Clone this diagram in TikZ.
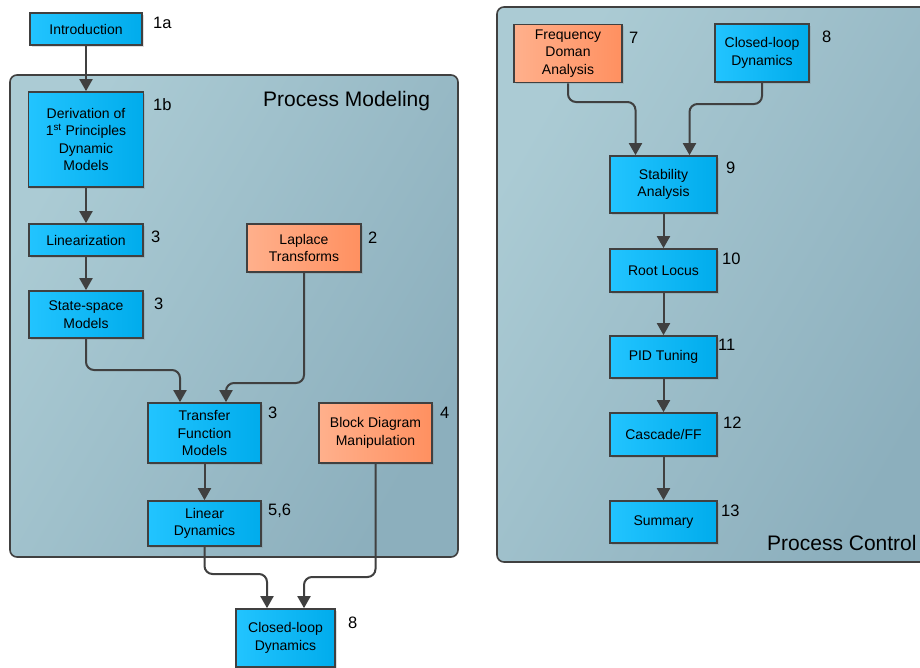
\documentclass[tikz,border=0pt]{standalone}
\usepackage{fontspec}
\setmainfont{Liberation Sans}
\usetikzlibrary{arrows.meta,shadows}
\definecolor{bluel}{HTML}{22C4FF}
\definecolor{blued}{HTML}{00ACEC}
\definecolor{orl}{HTML}{FFB08C}
\definecolor{ord}{HTML}{FF9060}
\definecolor{pnl}{HTML}{ABCBD4}
\definecolor{pnd}{HTML}{8CAFBD}
\definecolor{edgec}{HTML}{404040}
\tikzset{
  box/.style={draw=edgec, line width=1.7pt, align=center, inner sep=1pt,
    font=\fontsize{14}{17.5}\selectfont, text=black,
    drop shadow={shadow xshift=1.5pt, shadow yshift=-1.5pt, opacity=0.25}},
  bluebox/.style={box, left color=bluel, right color=blued},
  orbox/.style={box, left color=orl, right color=ord},
  num/.style={font=\fontsize{16.5}{20}\selectfont, anchor=base west, inner sep=0pt},
  ptitle/.style={font=\fontsize{21}{25}\selectfont, anchor=base west, inner sep=0pt},
  panel/.style={draw=edgec, line width=1.6pt, rounded corners=7pt, left color=pnl, right color=pnd, shading angle=60},
  arr/.style={draw=edgec, line width=2pt, rounded corners=8pt, -{Triangle[width=13pt,length=12pt]}}
}
\begin{document}
\begin{tikzpicture}[x=1pt,y=-1pt]
\clip (0,0) rectangle (920,667);
\useasboundingbox (0,0) rectangle (920,667);
\fill[white] (0,0) rectangle (920,667);
% panels
\draw[panel] (10,75) rectangle (458,557);
\node[ptitle] (pmt) at (263,106) {Process Modeling};
\draw[panel] (497,7) rectangle (940,562);
\node[ptitle] (pct) at (767,550) {Process Control};
% left boxes
\node[bluebox, minimum width=112, minimum height=32] (intro) at (86,29) {Introduction};
\node[bluebox, minimum width=115, minimum height=95] (deriv) at (86,139.5) {Derivation of\\1\textsuperscript{st} Principles\\Dynamic\\Models};
\node[bluebox, minimum width=114, minimum height=32] (lin) at (86,240) {Linearization};
\node[bluebox, minimum width=114, minimum height=47] (ss) at (86,314.5) {State-space\\Models};
\node[orbox, minimum width=114, minimum height=48] (lap) at (304,248) {Laplace\\Transforms};
\node[bluebox, minimum width=113, minimum height=60] (tf) at (204.5,433) {Transfer\\Function\\Models};
\node[orbox, minimum width=113, minimum height=60] (bd) at (375.5,433) {Block Diagram\\Manipulation};
\node[bluebox, minimum width=113, minimum height=45] (ld) at (204.5,523.5) {Linear\\Dynamics};
\node[bluebox, minimum width=99, minimum height=58] (cl1) at (285.5,638) {Closed-loop\\Dynamics};
% left labels
\node[num] (n1a) at (153,28) {1a};
\node[num] (n1b) at (153,110) {1b};
\node[num] (n3a) at (151,242) {3};
\node[num] (n3b) at (154,309) {3};
\node[num] (n2) at (368,243) {2};
\node[num] (n3c) at (268,418) {3};
\node[num] (n4) at (440,418) {4};
\node[num] (n56) at (268,515) {5,6};
\node[num] (n8a) at (348,628) {8};
% right boxes
\node[orbox, minimum width=108, minimum height=58] (fda) at (568,53.5) {Frequency\\Doman\\Analysis};
\node[bluebox, minimum width=94, minimum height=58] (cl2) at (762,53) {Closed-loop\\Dynamics};
\node[bluebox, minimum width=107, minimum height=57] (stab) at (663.5,184.5) {Stability\\Analysis};
\node[bluebox, minimum width=107, minimum height=43] (rl) at (663.5,270.5) {Root Locus};
\node[bluebox, minimum width=107, minimum height=42] (pid) at (663.5,357) {PID Tuning};
\node[bluebox, minimum width=107, minimum height=43] (casc) at (663.5,434.5) {Cascade/FF};
\node[bluebox, minimum width=107, minimum height=42] (sum) at (663.5,522) {Summary};
% right labels
\node[num] (n7) at (629,43) {7};
\node[num] (n8b) at (822,42) {8};
\node[num] (n9) at (726,173) {9};
\node[num] (n10) at (722,264) {10};
\node[num] (n11) at (718,350) {11};
\node[num] (n12) at (723,428) {12};
\node[num] (n13) at (721,516) {13};
% arrows left
\draw[arr] (intro.south) -- (deriv.north);
\draw[arr] (deriv.south) -- (lin.north);
\draw[arr] (lin.south) -- (ss.north);
\draw[arr] (ss.south) -- (ss.south |- 0,370) -| ([xshift=-24.5pt]tf.north);
\draw[arr] (lap.south) -- (lap.south |- 0,383) -| ([xshift=21.5pt]tf.north);
\draw[arr] (tf.south) -- (ld.north);
\draw[arr] (ld.south) -- (ld.south |- 0,574) -| ([xshift=-18.5pt]cl1.north);
\draw[arr] (bd.south) -- (bd.south |- 0,577) -| ([xshift=18.5pt]cl1.north);
% arrows right
\draw[arr] (fda.south) -- (fda.south |- 0,102) -| ([xshift=-28pt]stab.north);
\draw[arr] (cl2.south) -- (cl2.south |- 0,104) -| ([xshift=26pt]stab.north);
\draw[arr] (stab.south) -- (rl.north);
\draw[arr] (rl.south) -- (pid.north);
\draw[arr] (pid.south) -- (casc.north);
\draw[arr] (casc.south) -- (sum.north);
\end{tikzpicture}
\end{document}
